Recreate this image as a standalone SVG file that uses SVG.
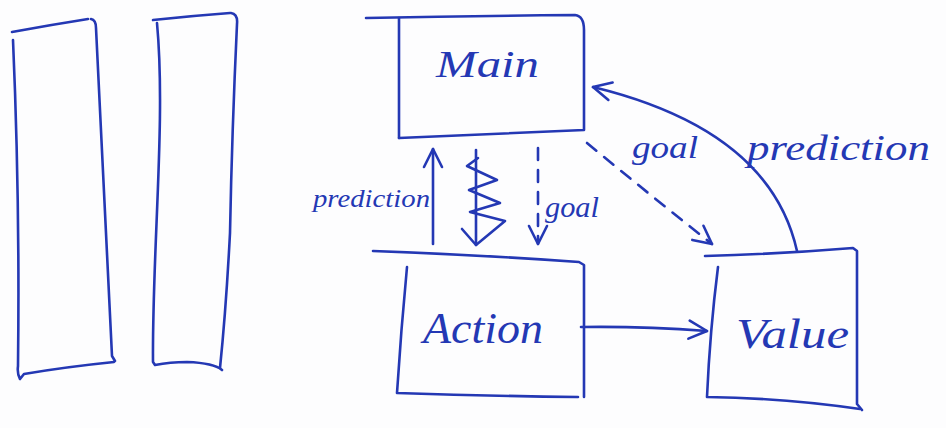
<svg xmlns="http://www.w3.org/2000/svg" width="946" height="428" viewBox="0 0 946 428">
  <style>
    .ink { fill: none; stroke: #2438b4; stroke-width: 2.6; stroke-linecap: round; stroke-linejoin: round; }
    .dash { stroke-dasharray: 12 10; }
    .hand { font-family: "Liberation Serif", "DejaVu Serif", serif; font-style: italic; fill: #2438b4; }
  </style>
  <defs>
    <marker id="open-head" viewBox="0 0 24 24" refX="21" refY="12" markerWidth="24" markerHeight="24" markerUnits="userSpaceOnUse" orient="auto">
      <path d="M3,3 L21,12 L3,21" fill="none" stroke="#2438b4" stroke-width="2.6" stroke-linecap="round" stroke-linejoin="round"/>
    </marker>
  </defs>
  <rect width="946" height="428" fill="#fdfdfe"/>

  <!-- two tall empty columns on the left -->
  <g id="column-1">
    <path class="ink" d="M12,32 Q50,25 88,19"/>
    <path class="ink" d="M91,19 Q96,20 96,28 Q104,200 112,356 L115,361"/>
    <path class="ink" d="M114,362 Q65,367 24,374 L20,379 Q17,374 18,366 Q20,200 13,40"/>
  </g>
  <g id="column-2">
    <path class="ink" d="M153,20 Q190,16 230,13"/>
    <path class="ink" d="M231,13 Q238,14 237,24 Q232,130 230,233 Q226,310 220,368"/>
    <path class="ink" d="M222,370 Q214,363 187,362 Q170,362 155,365 L153,362 C152,250 166,120 157,23"/>
  </g>

  <!-- Main box -->
  <g id="node-main">
    <path class="ink" d="M366,18 Q470,16 575,15 Q584,16 584,30 L584,130 Q490,134 399,138"/>
    <path class="ink" d="M399,18 L399,138"/>
    <text class="hand" x="436" y="77" font-size="38" textLength="103" lengthAdjust="spacingAndGlyphs">Main</text>
  </g>

  <!-- Action box -->
  <g id="node-action">
    <path class="ink" d="M373,251 Q480,255 579,262 L584,265 L584,397"/>
    <path class="ink" d="M407,267 Q401,330 397,393 Q490,396 578,397"/>
    <text class="hand" x="423" y="343" font-size="44" textLength="120" lengthAdjust="spacingAndGlyphs">Action</text>
  </g>

  <!-- Value box -->
  <g id="node-value">
    <path class="ink" d="M705,256 Q780,254 853,248 L857,251 L857,404 L862,410"/>
    <path class="ink" d="M718,267 Q710,330 707,397 Q785,398 860,409"/>
    <text class="hand" x="736" y="348" font-size="42" textLength="113" lengthAdjust="spacingAndGlyphs">Value</text>
  </g>

  <!-- connectors -->
  <g id="connectors">
    <!-- Action -> Main : prediction -->
    <path class="ink" d="M433,244 L433,149" marker-end="url(#open-head)"/>
    <!-- Main -> Action : squiggle -->
    <path class="ink" d="M476,150 L476,245"/>
    <path class="ink" d="M478,158 L467,166 L497,180 L469,190 L500,203 L470,212 L505,221 L476,245 L462,229"/>
    <!-- Main -> Action : goal (dashed) -->
    <path class="ink dash" d="M538,148 L538,244" marker-end="url(#open-head)"/>
    <!-- Main -> Value : goal (dashed) -->
    <path class="ink dash" d="M587,143 Q650,195 712,244" marker-end="url(#open-head)"/>
    <!-- Value -> Main : prediction -->
    <path class="ink" d="M797,251 Q770,130 593,87" marker-end="url(#open-head)"/>
    <!-- Action -> Value -->
    <path class="ink" d="M581,327 Q640,326 707,331" marker-end="url(#open-head)"/>
  </g>

  <!-- connector labels -->
  <g id="labels">
    <text class="hand" x="313" y="207" font-size="26" textLength="117" lengthAdjust="spacingAndGlyphs">prediction</text>
    <text class="hand" x="545" y="217" font-size="30" textLength="54" lengthAdjust="spacingAndGlyphs">goal</text>
    <text class="hand" x="632" y="158" font-size="32" textLength="66" lengthAdjust="spacingAndGlyphs">goal</text>
    <text class="hand" x="747" y="160" font-size="36" textLength="183" lengthAdjust="spacingAndGlyphs">prediction</text>
  </g>
</svg>
